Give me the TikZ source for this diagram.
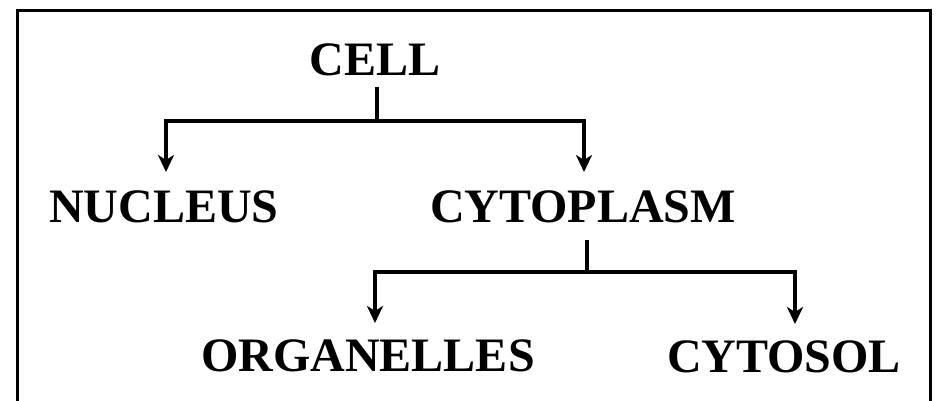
\documentclass[tikz,border=0pt]{standalone}
\usepackage{fontspec}
\setmainfont{Liberation Serif}
\usetikzlibrary{arrows.meta}

\begin{document}
\begin{tikzpicture}[x=1pt,y=1pt,
        term/.style={anchor=base,inner sep=0pt,font=\fontsize{48}{56}\selectfont\bfseries},
        wire/.style={line width=3.5pt},
        branch/.style={wire,-{Stealth[length=17pt,width=16pt,inset=5pt]}}]
        % \draw[help lines] grid(938,401);
        \useasboundingbox (0,0) rectangle (938,401);
        \draw[line width=3pt] (17.5,-20) rectangle (930,390);

        \node[term] (cell) at (375,325) {CELL};
        \node[term] (nucleus) at (164,178) {NUCLEUS};
        \node[term] (cytoplasm) at (583,178) {CYTOPLASM};
        \node[term] (organelles) at (368,29) {ORGANELLES};
        \node[term] (cytosol) at (784,28) {CYTOSOL};

        \draw[wire] ([xshift=2pt,yshift=-11pt]cell.base) -- ++(0,-34) coordinate (cellfork);
        \draw[branch] (cellfork) -| ([xshift=2pt,yshift=51pt]nucleus.base);
        \draw[branch] (cellfork) -| ([xshift=1pt,yshift=51pt]cytoplasm.base);

        \draw[wire] ([xshift=4pt,yshift=-17pt]cytoplasm.base) -- ++(0,-32) coordinate (cytofork);
        \draw[branch] (cytofork) -| ([xshift=7pt,yshift=49pt]organelles.base);
        \draw[branch] (cytofork) -| ([xshift=11pt,yshift=49pt]cytosol.base);
    \end{tikzpicture}
\end{document}
